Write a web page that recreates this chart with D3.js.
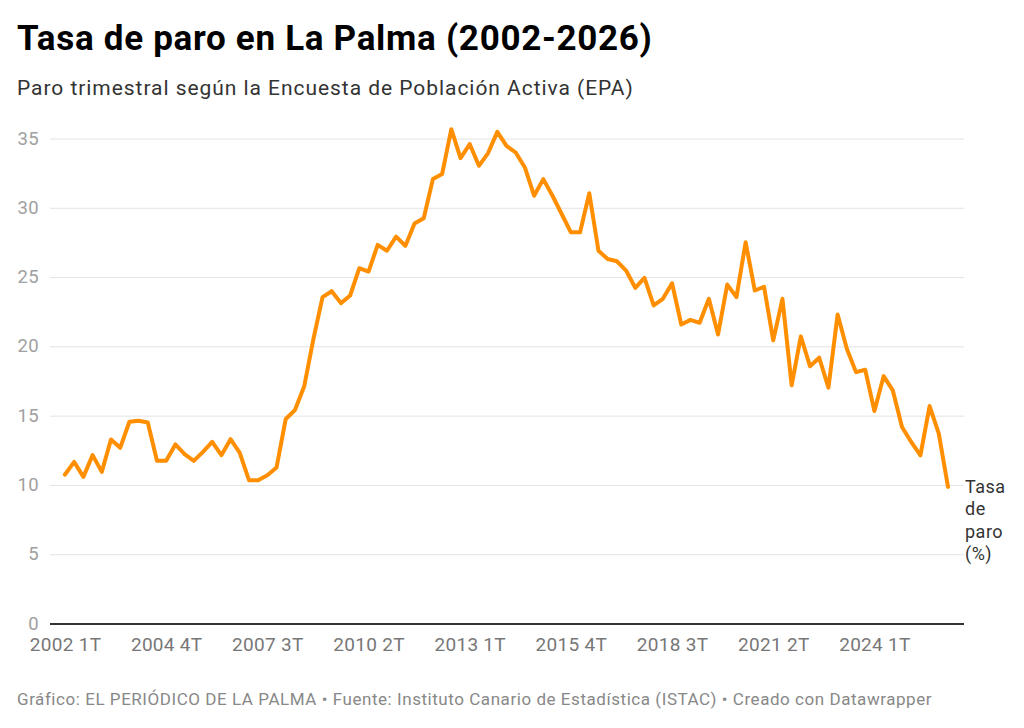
<!DOCTYPE html>
<html>
<head>
<meta charset="utf-8">
<script src="https://cdn.jsdelivr.net/npm/d3@7"></script>
<style>
    body { margin: 0; background: #fff; font-family: Roboto, "Noto Sans", sans-serif; }
    svg { display: block; }
</style>
</head>
<body>
<div class="chart"></div>
<script>
// quarterly unemployment rate, La Palma, 2002 1T .. 2026 1T
const startYear = 2002;
const rates = [
    10.75, 11.66, 10.58, 12.15, 10.94, 13.28, 12.68, 14.56, 14.63, 14.51,
    11.74, 11.74, 12.92, 12.22, 11.74, 12.39, 13.11, 12.15, 13.30, 12.31,
    10.34, 10.34, 10.70, 11.26, 14.76, 15.40, 17.10, 20.50, 23.55, 23.98,
    23.12, 23.67, 25.64, 25.40, 27.32, 26.90, 27.92, 27.25, 28.87, 29.25,
    32.07, 32.43, 35.67, 33.58, 34.60, 33.03, 33.95, 35.48, 34.47, 33.99,
    32.91, 30.87, 32.07, 30.87, 29.55, 28.23, 28.23, 31.05, 26.90, 26.30,
    26.14, 25.47, 24.22, 24.94, 22.95, 23.43, 24.55, 21.58, 21.91, 21.70,
    23.43, 20.86, 24.46, 23.55, 27.51, 24.03, 24.30, 20.43, 23.43, 17.19,
    20.72, 18.56, 19.18, 17.02, 22.30, 19.83, 18.14, 18.31, 15.33, 17.85,
    16.82, 14.18, 13.10, 12.14, 15.69, 13.70, 9.86
];
const quarters = rates.map((d, i) => (startYear + Math.floor(i / 4)) + " " + (i % 4 + 1) + "T");
const xTickLabels = ["2002 1T", "2004 4T", "2007 3T", "2010 2T", "2013 1T", "2015 4T", "2018 3T", "2021 2T", "2024 1T"];
const yTicks = [0, 5, 10, 15, 20, 25, 30, 35];

const w = 1024;
const h = 728;

const svg = d3.select(".chart")
    .append("svg")
    .attr("width", w)
    .attr("height", h);

svg.append("text")
    .attr("x", 17)
    .attr("y", 50)
    .attr("font-size", 35)
    .attr("font-weight", "bold")
    .attr("letter-spacing", 0.7)
    .attr("fill", "#000")
    .text("Tasa de paro en La Palma (2002-2026)");

svg.append("text")
    .attr("x", 17)
    .attr("y", 95)
    .attr("font-size", 21)
    .attr("letter-spacing", 0.95)
    .attr("fill", "#333")
    .text("Paro trimestral según la Encuesta de Población Activa (EPA)");

const xScale = d3.scalePoint()
    .domain(quarters)
    .range([65, 948]);

const yScale = d3.scaleLinear()
    .domain([0, 35])
    .range([623.5, 138.5]);

// grid + y labels
const yAxis = svg.append("g")
    .attr("id", "y-axis")
    .call(d3.axisLeft(yScale).tickValues(yTicks).tickSize(0).tickPadding(0));
yAxis.select(".domain").remove();
yAxis.selectAll(".tick line")
    .attr("x1", 50)
    .attr("x2", 964)
    .attr("stroke", d => d === 0 ? "#333" : "#e3e3e3")
    .attr("stroke-width", d => d === 0 ? 2 : 1);
yAxis.selectAll(".tick text")
    .attr("x", 39)
    .attr("dy", "0.3em")
    .attr("fill", "#a0a0a0")
    .attr("font-size", 18.5)
    .attr("letter-spacing", 0.3)
    .attr("font-family", "Roboto, sans-serif");
yAxis.selectAll(".tick").filter(d => d === 0).raise();

const xAxis = svg.append("g")
    .attr("id", "x-axis")
    .attr("transform", "translate(0,637)")
    .call(d3.axisBottom(xScale).tickValues(xTickLabels).tickSize(0).tickPadding(0));
xAxis.select(".domain").remove();
xAxis.selectAll(".tick text")
    .attr("dy", "0.71em")
    .attr("fill", "#777")
    .attr("font-size", 19)
    .attr("letter-spacing", 0.3)
    .attr("font-family", "Roboto, sans-serif");

const line = d3.line()
    .x((d, i) => xScale(quarters[i]))
    .y(d => yScale(d));

svg.append("path")
    .datum(rates)
    .attr("d", line)
    .attr("fill", "none")
    .attr("stroke", "#ff8f00")
    .attr("stroke-width", 4)
    .attr("stroke-linejoin", "round")
    .attr("stroke-linecap", "round");

// series label at line end
const label = svg.append("text")
    .attr("x", 965)
    .attr("y", yScale(rates[rates.length - 1]) + 6)
    .attr("font-size", 18)
    .attr("letter-spacing", 0.5)
    .attr("fill", "#333");
["Tasa", "de", "paro", "(%)"].forEach((t, i) => {
    label.append("tspan")
        .attr("x", 965)
        .attr("dy", i === 0 ? 0 : 22.5)
        .text(t);
});

svg.append("text")
    .attr("x", 17)
    .attr("y", 705)
    .attr("font-size", 17)
    .attr("letter-spacing", 0.55)
    .attr("fill", "#888")
    .text("Gráfico: EL PERIÓDICO DE LA PALMA • Fuente: Instituto Canario de Estadística (ISTAC) • Creado con Datawrapper");
</script>
</body>
</html>
